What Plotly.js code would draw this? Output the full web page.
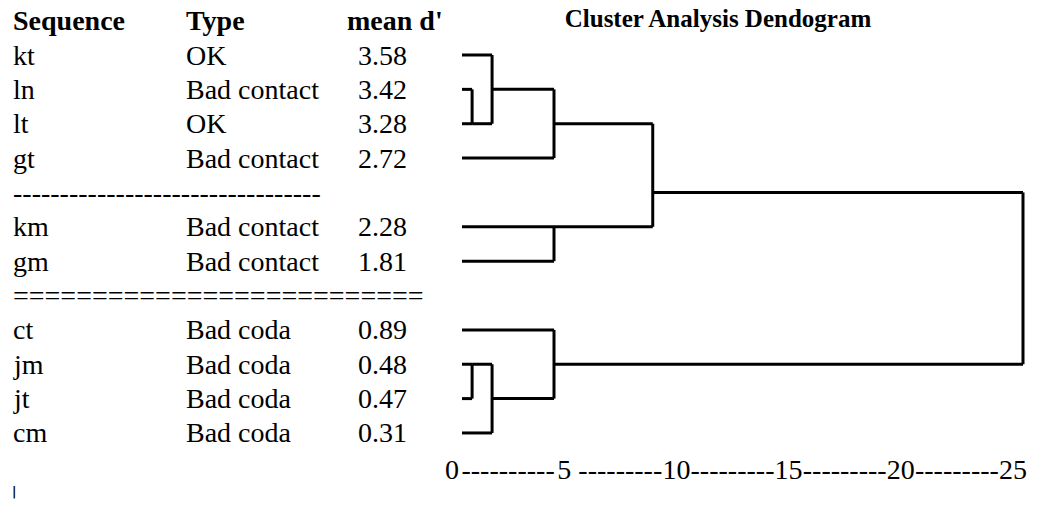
<!DOCTYPE html>
<html>
<head>
<meta charset="utf-8">
<script src="https://cdn.plot.ly/plotly-3.0.1.min.js"></script>
<style>html,body{margin:0;padding:0;background:#fff;}#chart{width:1044px;height:508px;}</style>
</head>
<body>
<div id="chart"></div>
<script>
// ---- data ----
const chartTitle = 'Cluster Analysis Dendogram';
const headers = ['Sequence', 'Type', "mean d'"];
const sequences = ['kt', 'ln', 'lt', 'gt', 'km', 'gm', 'ct', 'jm', 'jt', 'cm'];
const types = ['OK', 'Bad contact', 'OK', 'Bad contact', 'Bad contact', 'Bad contact', 'Bad coda', 'Bad coda', 'Bad coda', 'Bad coda'];
const meanD = [3.58, 3.42, 3.28, 2.72, 2.28, 1.81, 0.89, 0.48, 0.47, 0.31];
const groupSizes = [4, 2, 4];
const separators = ['-'.repeat(33), '='.repeat(26)];
// merges: cluster cN is created by merge N
const mergeLeft   = ['ln', 'kt', 'c1', 'km', 'c2', 'jm', 'c5', 'ct', 'c4'];
const mergeRight  = ['lt', 'c0', 'gt', 'gm', 'c3', 'jt', 'cm', 'c6', 'c7'];
const mergeHeight = [0.45, 1.34, 4.1, 4.1, 8.5, 0.45, 1.34, 4.1, 25];
const mergeLinkLower = [true, true, true, false, true, false, true, true, true];
const rulerValues = [0, 5, 10, 15, 20, 25];
const rulerDashes = ['----------', '---------', '---------', '---------', '---------'];

// ---- layout helpers ----
const W = 1044, H = 508;
const FONT = 'Liberation Serif, Times New Roman, serif';
const mb = 58, plotH = H - mb;
const rowTop = 55, rowStep = 34.36;         // pixel geometry of the text rows
const x0px = 462, xScale = 22.44;           // pixel of distance 0, px per unit
const yRange = [(plotH - rowTop) / rowStep, -rowTop / rowStep];
const xRange = [-x0px / xScale, (W - x0px) / xScale];

// assign rows (text lines) to leaves and separators
const leafRow = {};
const sepRows = [];
let r = 0, k = 0;
groupSizes.forEach((n, g) => {
  for (let i = 0; i < n; i++) { leafRow[sequences[k++]] = r++; }
  if (g < groupSizes.length - 1) { sepRows.push(r++); }
});

// build dendrogram segments
const outRow = Object.assign({}, leafRow);
const outX = {};
sequences.forEach(s => outX[s] = 0);
const lx = [], ly = [];
function seg(xa, ya, xb, yb) { lx.push(xa, xb, null); ly.push(ya, yb, null); }
mergeLeft.forEach((a, i) => {
  const b = mergeRight[i], h = mergeHeight[i];
  const ra = outRow[a], rb = outRow[b];
  seg(outX[a], ra, h, ra);
  seg(outX[b], rb, h, rb);
  seg(h, Math.min(ra, rb), h, Math.max(ra, rb));
  const mid = (ra + rb) / 2;
  const name = 'c' + i;
  outRow[name] = Number.isInteger(mid) ? mid : (mergeLinkLower[i] ? Math.ceil(mid) : Math.floor(mid));
  outX[name] = h;
});

// ruler tick labels
const tickvals = [], ticktext = [];
rulerValues.forEach((v, i) => {
  tickvals.push(v); ticktext.push(String(v));
  if (i < rulerDashes.length) {
    tickvals.push((v + rulerValues[i + 1]) / 2); ticktext.push(rulerDashes[i]);
  }
});

// table annotations
const colX = [11, 184, 345];
const numX = 356;
const annotations = [];
function txt(text, xpx, row, bold) {
  annotations.push({
    text: text, xref: 'paper', yref: 'y', x: xpx / W, y: row,
    xanchor: 'left', yanchor: 'middle', showarrow: false,
    font: {family: FONT, size: 28, color: '#000', weight: bold ? 'bold' : 'normal'}
  });
}
headers.forEach((h, i) => txt(h, colX[i], -1, true));
sequences.forEach((s, i) => {
  const row = leafRow[s];
  txt(s, colX[0], row, false);
  txt(types[i], colX[1], row, false);
  txt(meanD[i].toFixed(2), numX, row, false);
});
separators.forEach((s, i) => txt(s, colX[0], sepRows[i], false));
annotations.push({
  text: '|', xref: 'paper', yref: 'paper', x: 14 / W, y: (plotH - 492) / plotH,
  xanchor: 'center', yanchor: 'middle', showarrow: false,
  font: {family: 'DejaVu Sans', size: 12, color: '#000', weight: 'bold'}
});

const trace = {
  type: 'scatter', mode: 'lines', x: lx, y: ly,
  line: {color: '#000', width: 3}, hoverinfo: 'skip', showlegend: false,
  connectgaps: false, cliponaxis: false
};

const layout = {
  width: W, height: H,
  margin: {l: 0, r: 0, t: 0, b: mb, pad: 0},
  paper_bgcolor: '#fff', plot_bgcolor: '#fff',
  title: {
    text: chartTitle, x: 718 / W, xanchor: 'center', xref: 'paper',
    y: 1 - 18 / H, yanchor: 'middle', yref: 'container',
    font: {family: FONT, size: 25, color: '#000', weight: 'bold'}
  },
  xaxis: {
    range: xRange, showgrid: false, zeroline: false, showline: false,
    ticks: '', tickvals: tickvals, ticktext: ticktext, tickangle: 0,
    ticklabelshift: -10, ticklabelstandoff: 0,
    tickfont: {family: FONT, size: 28, color: '#000'}, fixedrange: true
  },
  yaxis: {
    range: yRange, showgrid: false, zeroline: false, showline: false,
    showticklabels: false, ticks: '', fixedrange: true
  },
  annotations: annotations,
  showlegend: false
};

Plotly.newPlot('chart', [trace], layout, {displayModeBar: false, staticPlot: true});
</script>
</body>
</html>
